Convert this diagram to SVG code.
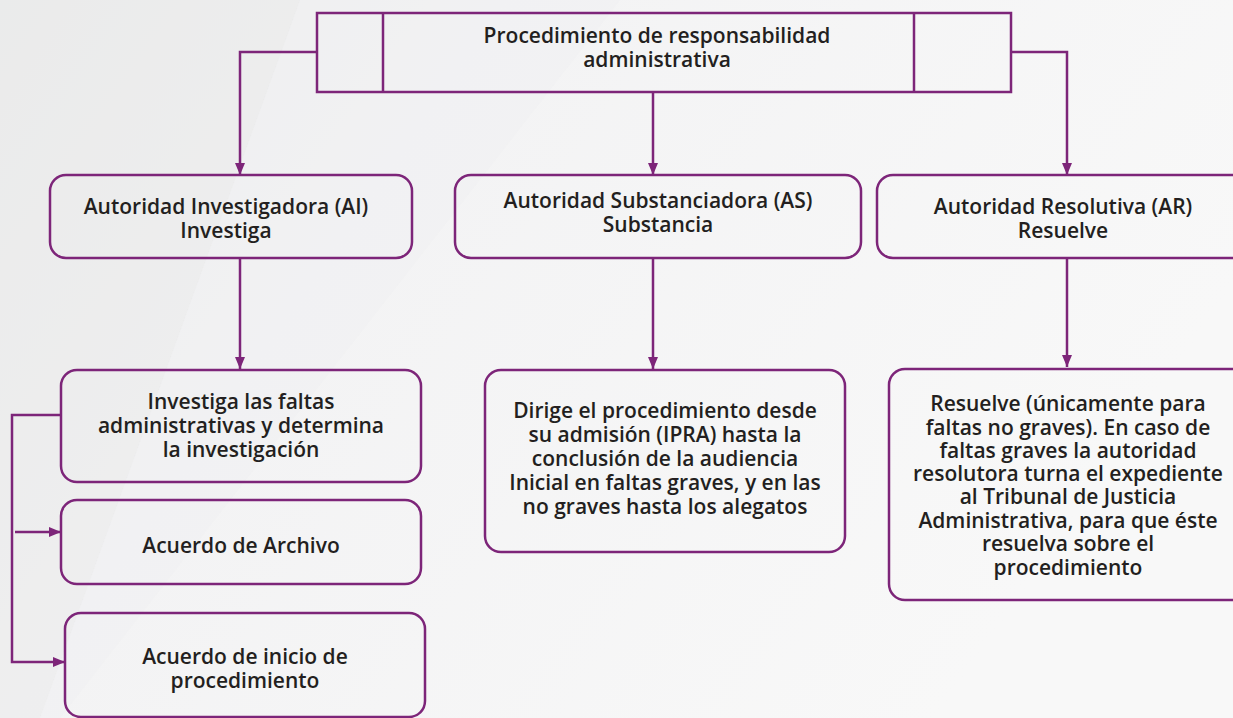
<svg xmlns="http://www.w3.org/2000/svg" width="1233" height="718" viewBox="0 0 1233 718">
<defs>
<linearGradient id="bg" x1="0" y1="0" x2="1" y2="0.4">
<stop offset="0" stop-color="#ebecec"/>
<stop offset="0.35" stop-color="#f3f3f4"/>
<stop offset="1" stop-color="#f8f8f8"/>
</linearGradient>
<marker id="ah" viewBox="0 0 12 10" refX="12" refY="5" markerWidth="12" markerHeight="10" markerUnits="userSpaceOnUse" orient="auto">
<path d="M0,0 L12,5 L0,10 Z" fill="#7d2579"/>
</marker>
<style>
.box{fill:none;stroke:#7d2579;stroke-width:2.5}
.ln{fill:none;stroke:#7d2579;stroke-width:2.5;marker-end:url(#ah)}
.pl{fill:none;stroke:#7d2579;stroke-width:2.5}
text{font-family:"Open Sans","Liberation Sans",sans-serif;font-weight:600;font-size:21px;fill:#231f20;text-anchor:middle}
</style>
</defs>
<rect width="1233" height="718" fill="url(#bg)"/>
<path d="M0,0 L300,0 L40,718 L0,718 Z" fill="#e9eaea" opacity="0.5"/>
<path d="M300,0 L620,0 L60,718 L40,718 Z" fill="#f0f0f1" opacity="0.5"/>

<g id="connectors">
<polyline class="ln" points="317,52 240,52 240,175"/>
<line class="ln" x1="653" y1="92" x2="653" y2="175"/>
<polyline class="ln" points="1011,52 1067,52 1067,175"/>
<line class="ln" x1="240" y1="258" x2="240" y2="369"/>
<line class="ln" x1="653" y1="258" x2="653" y2="369"/>
<line class="ln" x1="1067" y1="258" x2="1067" y2="367"/>
<polyline class="ln" points="61,415 12,415 12,662 65,662"/>
<line class="ln" x1="15" y1="532" x2="61" y2="532"/>
</g>

<g id="n-top">
<rect class="box" x="317" y="13" width="694" height="79"/>
<line class="pl" x1="383" y1="13" x2="383" y2="92"/>
<line class="pl" x1="914" y1="13" x2="914" y2="92"/>
<text x="657" y="43">Procedimiento de responsabilidad</text>
<text x="657" y="67">administrativa</text>
</g>

<g id="n-ai">
<rect class="box" x="50" y="175" width="362" height="83" rx="16"/>
<text x="226" y="214">Autoridad Investigadora (AI)</text>
<text x="226" y="238">Investiga</text>
</g>

<g id="n-as">
<rect class="box" x="455" y="175" width="406" height="83" rx="16"/>
<text x="658" y="208">Autoridad Substanciadora (AS)</text>
<text x="658" y="232">Substancia</text>
</g>

<g id="n-ar">
<rect class="box" x="877" y="175" width="370" height="83" rx="16"/>
<text x="1063" y="214">Autoridad Resolutiva (AR)</text>
<text x="1063" y="238">Resuelve</text>
</g>

<g id="n-investiga">
<rect class="box" x="61" y="370" width="360" height="112" rx="16"/>
<text x="241" y="409">Investiga las faltas</text>
<text x="241" y="433">administrativas y determina</text>
<text x="241" y="457">la investigación</text>
</g>

<g id="n-archivo">
<rect class="box" x="61" y="500" width="360" height="84" rx="16"/>
<text x="241" y="553">Acuerdo de Archivo</text>
</g>

<g id="n-inicio">
<rect class="box" x="65" y="613" width="360" height="104" rx="16"/>
<text x="245" y="664">Acuerdo de inicio de</text>
<text x="245" y="688">procedimiento</text>
</g>

<g id="n-dirige">
<rect class="box" x="485" y="370" width="360" height="182" rx="16"/>
<text x="665" y="418">Dirige el procedimiento desde</text>
<text x="665" y="442">su admisión (IPRA) hasta la</text>
<text x="665" y="466">conclusión de la audiencia</text>
<text x="665" y="490">Inicial en faltas graves, y en las</text>
<text x="665" y="514">no graves hasta los alegatos</text>
</g>

<g id="n-resuelve">
<rect class="box" x="889" y="369" width="360" height="231" rx="16"/>
<text x="1068" y="411">Resuelve (únicamente para</text>
<text x="1068" y="435">faltas no graves). En caso de</text>
<text x="1068" y="458">faltas graves la autoridad</text>
<text x="1068" y="481">resolutora turna el expediente</text>
<text x="1068" y="504">al Tribunal de Justicia</text>
<text x="1068" y="528">Administrativa, para que éste</text>
<text x="1068" y="551">resuelva sobre el</text>
<text x="1068" y="575">procedimiento</text>
</g>
</svg>
